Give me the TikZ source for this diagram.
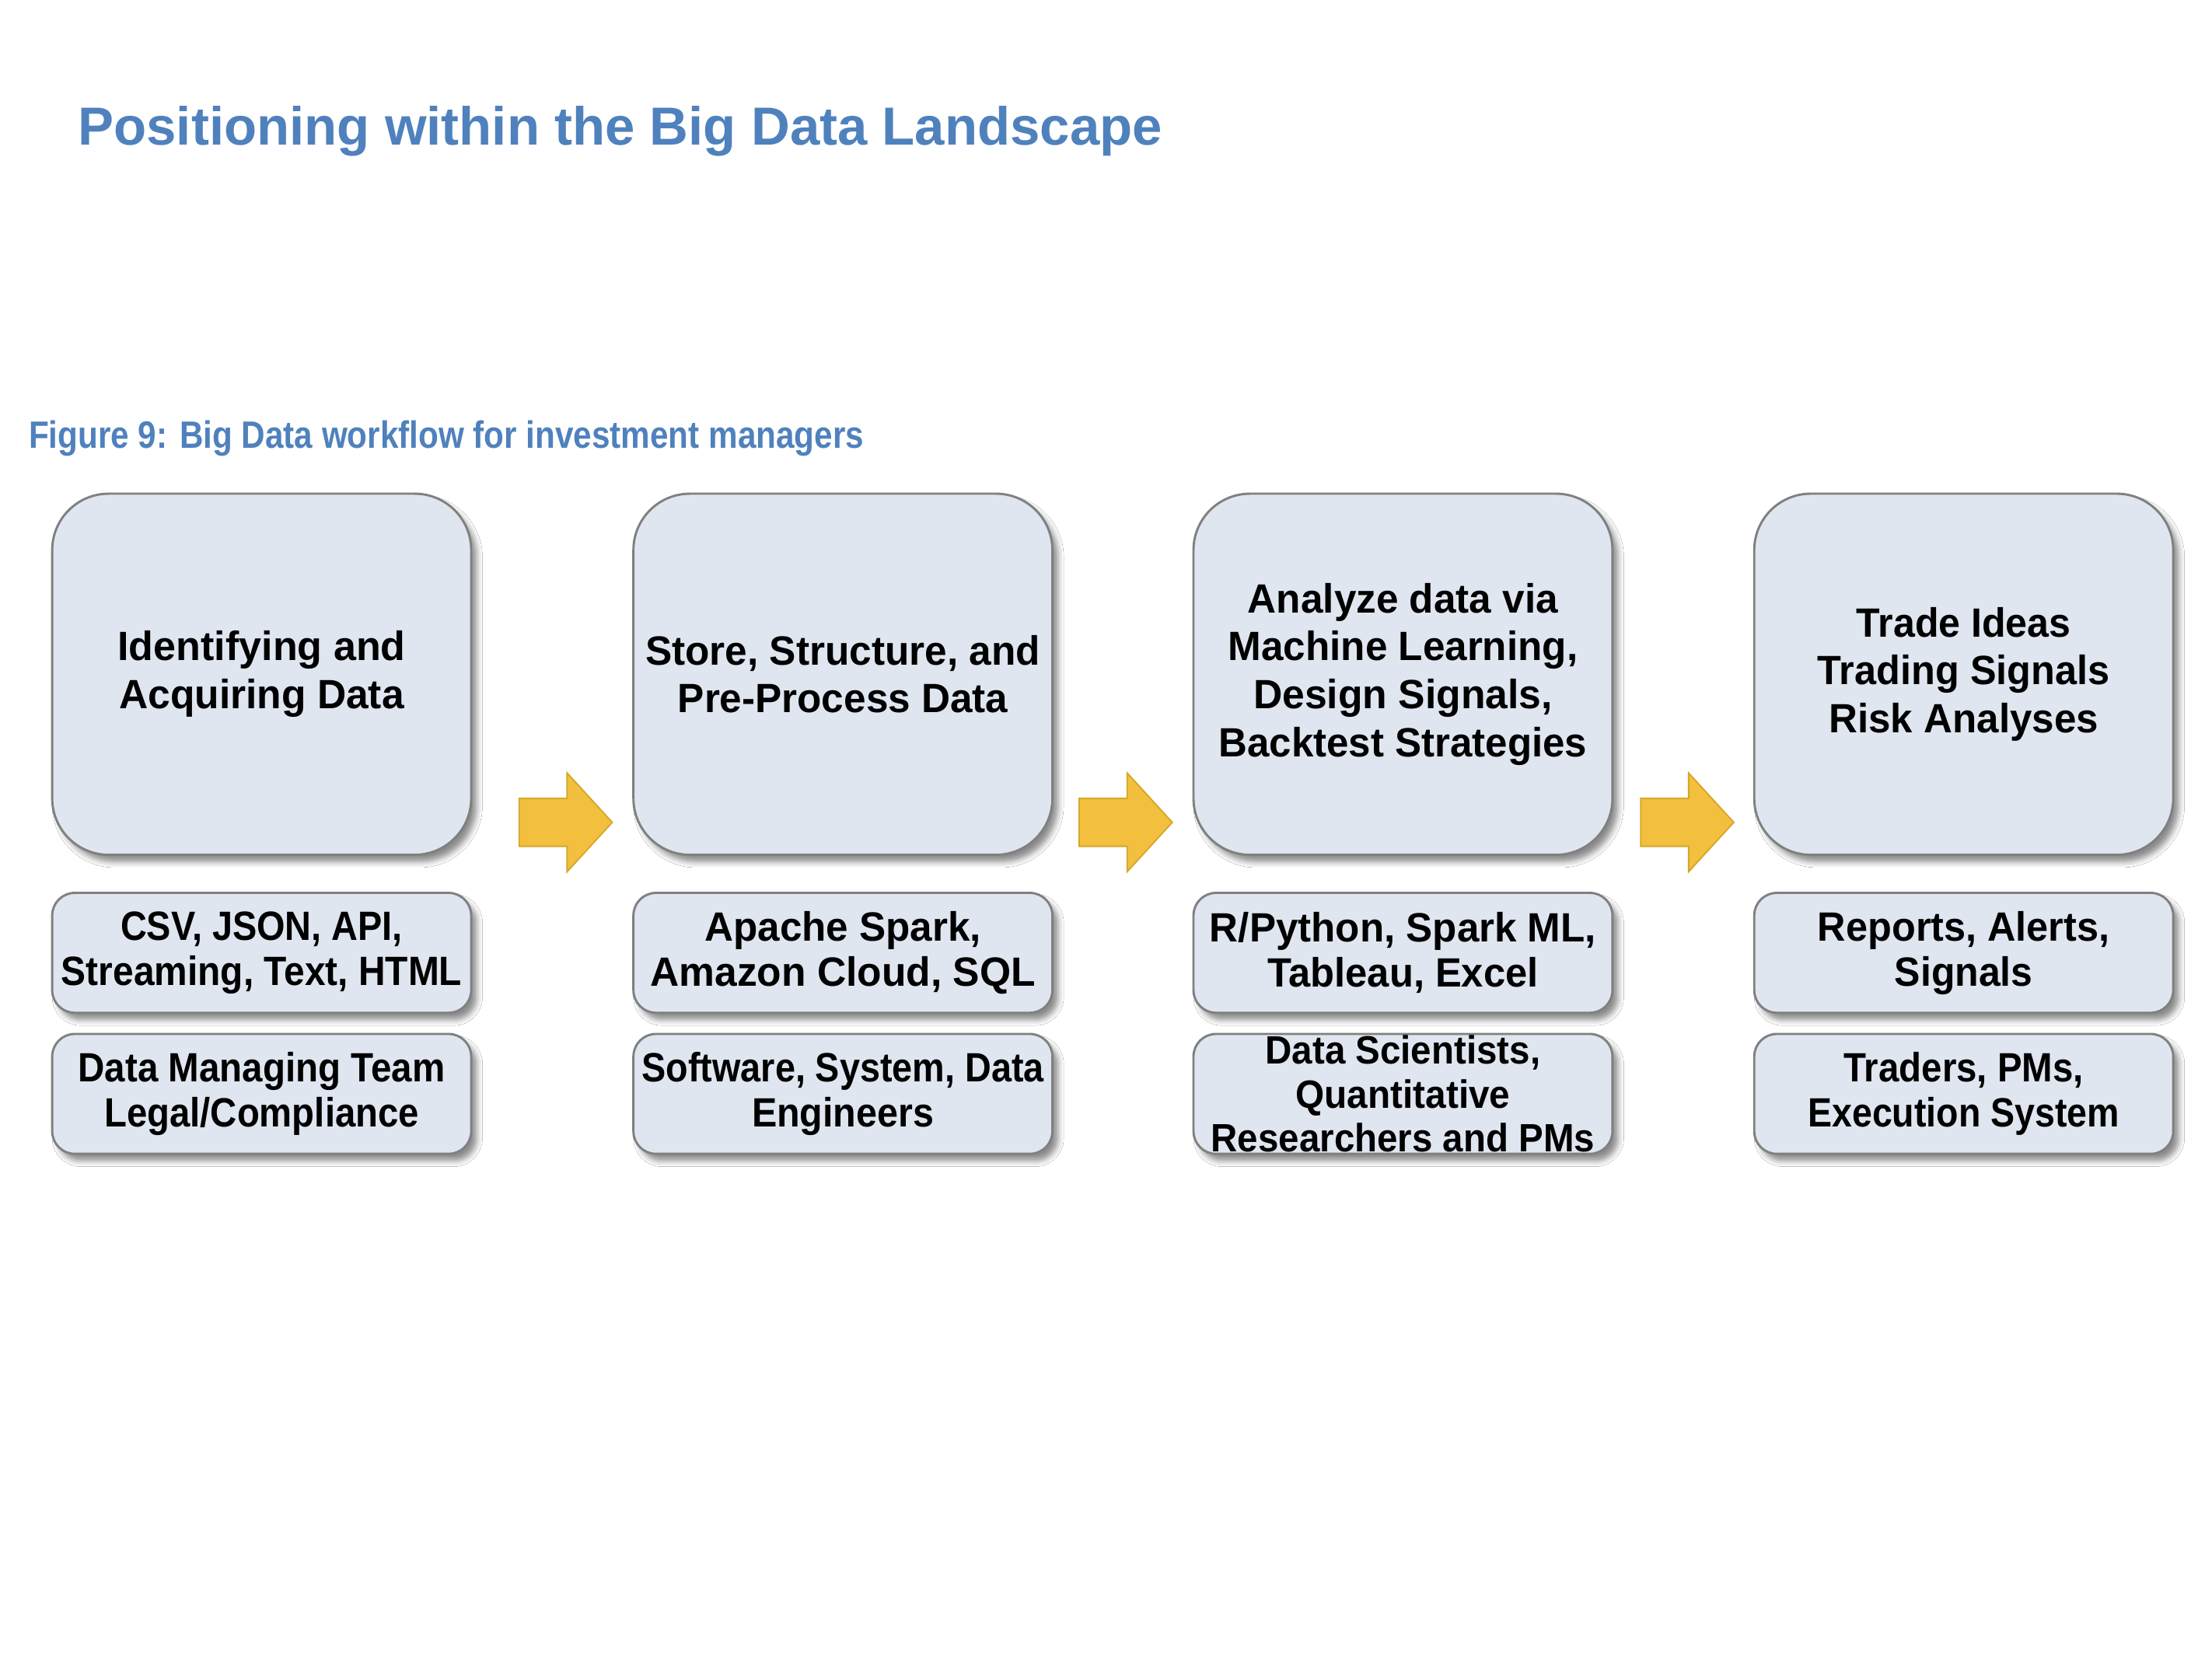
\documentclass[tikz,border=0pt]{standalone}
\usepackage{fontspec}
\setmainfont{Liberation Sans}
\usetikzlibrary{shadows.blur}
\definecolor{titleblue}{RGB}{79,129,189}
\definecolor{boxfill}{RGB}{223,230,240}
\definecolor{boxline}{RGB}{128,128,128}
\definecolor{arrowgold}{RGB}{242,192,62}
\definecolor{arrowline}{RGB}{214,166,40}
\newlength\pxu \setlength\pxu{0.5pt}
\newcommand\fw[2]{\resizebox{#1\pxu}{\height}{#2}}
\tikzset{
  boxbase/.style={draw=boxline, line width=0.8pt, fill=boxfill, inner sep=0pt, align=center,
    minimum width=148.5pt,
    blur shadow={shadow xshift=2pt, shadow yshift=-2.5pt, shadow blur radius=2pt, shadow opacity=45}},
  bigbox/.style={boxbase, rounded corners=20pt, minimum height=128pt,
    font={\fontsize{14.5}{17}\selectfont\bfseries}},
  smallbox/.style={boxbase, rounded corners=8pt, minimum height=42.5pt,
    font={\fontsize{14.5}{16}\selectfont\bfseries}},
  blockarrow/.style={fill=arrowgold, draw=arrowline, line width=0.5pt},
  headtext/.style={anchor=base west, inner sep=0pt, text=titleblue}
}
\begin{document}
\begin{tikzpicture}[x=0.5pt, y=-0.5pt]
\useasboundingbox[fill=white] (0,0) rectangle (1568,1176);

\node[headtext, font={\fontsize{19}{23}\selectfont\bfseries}] (title) at (55,103) {Positioning within the Big Data Landscape};
\node[headtext, font={\fontsize{13.5}{16}\selectfont\bfseries}] (caption) at (20,318) {\fw{592}{Figure 9: Big Data workflow for investment managers}};

% big boxes
\node[bigbox] (b1) at (185.5,478) {\fw{204}{Identifying and}\\\fw{202}{Acquiring Data}};
\node[bigbox] (b2) at (597.5,478) {\fw{280}{Store, Structure, and}\\\fw{234}{Pre-Process Data}};
\node[bigbox] (b3) at (994.5,478) {\fw{220}{Analyze data via}\\\fw{248}{Machine Learning,}\\\fw{212}{Design Signals,}\\\fw{261}{Backtest Strategies}};
\node[bigbox] (b4) at (1392,478) {\fw{152}{Trade Ideas}\\\fw{207}{Trading Signals}\\\fw{191}{Risk Analyses}};

% tools row
\node[smallbox] (t1) at (185.5,675.5) {\fw{200}{CSV, JSON, API,}\\\fw{284}{Streaming, Text, HTML}};
\node[smallbox] (t2) at (597.5,675.5) {\fw{196}{Apache Spark,}\\\fw{273}{Amazon Cloud, SQL}};
\node[smallbox] (t3) at (994.5,675.5) {\fw{274}{R/Python, Spark ML,}\\\fw{192}{Tableau, Excel}};
\node[smallbox] (t4) at (1392,675.5) {\fw{207}{Reports, Alerts,}\\\fw{98}{Signals}};

% people row
\node[smallbox] (p1) at (185.5,775.5) {\fw{260}{Data Managing Team}\\\fw{223}{Legal/Compliance}};
\node[smallbox] (p2) at (597.5,775.5) {\fw{285}{Software, System, Data}\\\fw{129}{Engineers}};
\node[smallbox, font={\fontsize{14}{15.5}\selectfont\bfseries}] (p3) at (994.5,775.5) {\fw{195}{Data Scientists,}\\\fw{152}{Quantitative}\\\fw{272}{Researchers and PMs}};
\node[smallbox] (p4) at (1392,775.5) {\fw{170}{Traders, PMs,}\\\fw{221}{Execution System}};

% block arrows
\foreach \x in {368,765,1163}
  \draw[blockarrow, shift={(\x,583)}] (0,-17) -- (34,-17) -- (34,-35) -- (66,0) -- (34,35) -- (34,17) -- (0,17) -- cycle;
\end{tikzpicture}
\end{document}
